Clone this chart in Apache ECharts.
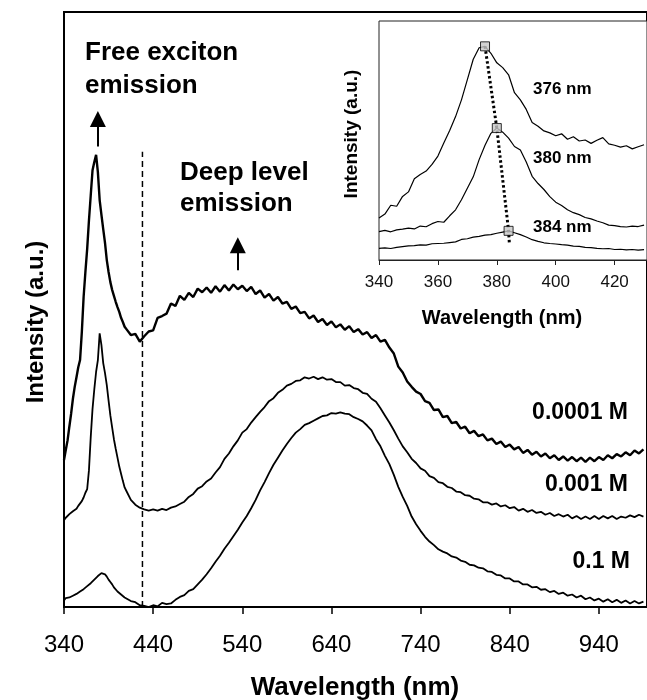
<!DOCTYPE html>
<html>
<head>
<meta charset="utf-8">
<script src="https://cdn.jsdelivr.net/npm/echarts@6/dist/echarts.min.js"></script>
<style>
  html, body { margin: 0; padding: 0; background: #fff; }
  #chart { width: 647px; height: 700px; }
</style>
</head>
<body>
<div id="chart"></div>
<script>
// ---------------------------------------------------------------------------
// Photoluminescence spectra (main) + free exciton detail (inset)
// ---------------------------------------------------------------------------
const FONT = '"Liberation Sans", Arial, sans-serif';

// main spectra, intensity in arbitrary units (0 = baseline of the frame)
const wlMain = [
  340, 342, 344, 346, 348, 350, 352, 354, 356, 358, 360, 362, 364, 366, 368, 370, 372, 374,
  376, 378, 380, 382, 384, 386, 388, 390, 392, 394, 396, 398, 400, 402, 404, 406, 408, 410,
  415, 420, 425, 430, 435, 440, 445, 450, 455, 460, 465, 470, 475, 480, 485, 490, 495, 500,
  505, 510, 515, 520, 525, 530, 535, 540, 545, 550, 555, 560, 565, 570, 575, 580, 585, 590,
  595, 600, 605, 610, 615, 620, 625, 630, 635, 640, 645, 650, 655, 660, 665, 670, 675, 680,
  685, 690, 695, 700, 705, 710, 715, 720, 725, 730, 735, 740, 745, 750, 755, 760, 765, 770,
  775, 780, 785, 790, 795, 800, 805, 810, 815, 820, 825, 830, 835, 840, 845, 850, 855, 860,
  865, 870, 875, 880, 885, 890, 895, 900, 905, 910, 915, 920, 925, 930, 935, 940, 945, 950,
  955, 960, 965, 970, 975, 980, 985, 990
];
const conc00001 = [
  24.7, 26.4, 28.0, 30.3, 32.5, 35.0, 37.0, 38.6, 40.3, 41.5, 46.2, 52.1, 56.3, 60.2, 65.0, 69.2, 73.4, 74.8,
  76.0, 73.1, 68.4, 65.9, 63.5, 61.2, 58.3, 56.3, 54.6, 53.3, 52.3, 51.3, 50.4, 49.6, 48.6, 47.9, 47.1, 46.7,
  45.7, 45.9, 44.6, 45.5, 46.3, 46.5, 48.6, 48.9, 49.3, 51.0, 50.6, 52.3, 51.6, 52.8, 52.1, 53.5, 52.9, 53.7,
  52.8, 53.9, 53.0, 54.1, 53.2, 54.2, 53.4, 54.0, 53.1, 53.8, 52.6, 53.2, 52.0, 52.6, 51.5, 52.1, 51.0, 51.3,
  50.1, 50.5, 49.4, 49.6, 48.5, 49.0, 47.9, 48.4, 47.4, 48.0, 47.0, 47.5, 46.6, 47.2, 46.2, 46.7, 45.8, 46.2,
  45.2, 45.7, 44.6, 44.9, 43.6, 42.6, 40.4, 39.4, 37.9, 37.0, 36.2, 35.8, 34.6, 34.3, 33.1, 33.2, 31.9, 32.1,
  30.9, 31.1, 30.0, 30.3, 29.2, 29.6, 28.7, 29.0, 28.0, 28.3, 27.4, 27.8, 26.9, 27.3, 26.5, 26.9, 25.9, 26.4,
  25.6, 26.1, 25.3, 25.8, 25.0, 25.5, 24.7, 25.3, 24.6, 25.2, 24.5, 25.1, 24.4, 25.1, 24.5, 25.2, 24.7, 25.5,
  25.0, 25.7, 25.3, 26.0, 25.5, 26.3, 25.8, 26.5
];
const conc0001 = [
  14.6, 15.0, 14.9, 15.6, 15.7, 16.1, 16.3, 16.5, 17.0, 17.2, 17.8, 18.4, 19.2, 19.8, 23.0, 28.6, 33.3, 36.6,
  39.5, 41.5, 46.0, 44.0, 41.0, 39.3, 37.3, 34.7, 32.2, 30.2, 28.2, 26.6, 25.1, 23.6, 22.4, 21.2, 20.1, 19.5,
  18.0, 17.2, 16.7, 16.4, 16.2, 16.4, 16.2, 16.5, 16.3, 16.7, 16.9, 17.3, 17.7, 18.5, 19.0, 19.9, 20.3, 21.1,
  21.6, 22.6, 23.5, 24.9, 25.8, 27.0, 28.0, 29.3, 29.9, 31.0, 31.9, 32.8, 33.6, 34.6, 35.1, 36.0, 36.5, 37.2,
  37.5, 38.0, 38.1, 38.6, 38.4, 38.7, 38.3, 38.6, 38.2, 38.3, 37.8, 37.8, 37.2, 37.3, 36.8, 36.6, 36.0, 35.8,
  35.0, 34.5, 33.4, 32.2, 31.0, 29.7, 28.3, 27.0, 26.0, 24.9, 24.2, 23.3, 22.9, 22.0, 21.7, 21.0, 20.8, 20.2,
  20.0, 19.4, 19.3, 18.8, 18.7, 18.2, 18.1, 17.6, 17.6, 17.2, 17.4, 16.9, 17.1, 16.6, 16.8, 16.2, 16.5, 16.0,
  16.3, 15.8, 16.0, 15.5, 15.8, 15.3, 15.6, 15.2, 15.5, 14.9, 15.3, 14.8, 15.2, 14.8, 15.3, 14.8, 15.3, 14.9,
  15.3, 14.8, 15.2, 15.0, 15.4, 15.1, 15.5, 15.2
];
const conc01 = [
  1.1, 1.5, 1.2, 1.6, 1.4, 1.9, 1.7, 2.2, 2.1, 2.6, 2.5, 3.0, 3.1, 3.5, 3.7, 4.0, 4.3, 4.6,
  4.9, 5.2, 5.4, 5.7, 5.9, 5.5, 5.1, 4.6, 4.2, 3.8, 3.3, 3.0, 2.6, 2.5, 2.1, 1.9, 1.6, 1.5,
  1.0, 0.8, 0.3, 0.2, 0.0, 0.3, 0.1, 0.7, 0.5, 0.6, 1.2, 1.7, 2.0, 2.7, 3.0, 3.8, 4.6, 5.5,
  6.5, 7.6, 8.6, 9.8, 10.8, 11.9, 13.0, 14.2, 15.3, 16.6, 18.0, 19.6, 21.0, 22.5, 23.9, 25.1, 26.3, 27.4,
  28.4, 29.3, 29.9, 30.6, 30.9, 31.3, 31.7, 32.1, 32.2, 32.6, 32.5, 32.7, 32.5, 32.4, 31.9, 31.6, 31.2, 30.5,
  29.7, 28.2, 27.0, 25.4, 24.0, 22.2, 20.2, 18.5, 17.0, 15.2, 13.9, 12.8, 11.8, 11.0, 10.4, 9.7, 9.3, 9.0,
  8.5, 8.3, 7.8, 7.6, 7.1, 7.0, 6.6, 6.5, 6.0, 5.9, 5.4, 5.3, 4.8, 4.8, 4.3, 4.3, 3.8, 3.8,
  3.3, 3.4, 2.9, 3.0, 2.5, 2.7, 2.2, 2.4, 1.9, 2.1, 1.6, 1.9, 1.3, 1.6, 1.1, 1.4, 0.9, 1.3,
  0.8, 1.2, 0.7, 1.1, 0.6, 1.0, 0.6, 0.9
];

// separation between the two emission regions, and the arrows
const dividerWl = [428, 428];
const dividerVal = [0, 76.5];
const arrowWl = [378, 535];
const arrowFrom = [77.4, 56.6];
const arrowTo = [82.0, 60.8];

// inset: free exciton peak detail
const wlInset = [
  340, 342, 344, 346, 348, 350, 352, 354, 356, 358, 360, 362, 364, 366, 368, 370, 372, 374, 376, 378,
  380, 382, 384, 386, 388, 390, 392, 394, 396, 398, 400, 402, 404, 406, 408, 410, 412, 414, 416, 418,
  420, 422, 424, 426, 428, 430
];
const inset376 = [
  17.6, 19.2, 22.9, 22.5, 26.6, 28.5, 34.0, 35.8, 37.2, 40.0, 43.5, 49.0, 54.2, 60.0, 67.0, 75.5, 84.0, 88.8, 89.4, 86.5,
  82.5, 80.5, 77.5, 70.0, 67.0, 63.0, 57.5, 56.0, 54.0, 53.2, 52.0, 52.8, 50.5, 51.6, 49.8, 50.2, 48.8, 50.1, 51.2, 48.6,
  48.0, 47.2, 47.8, 46.5, 47.4, 48.2
];
const inset380 = [
  11.9, 12.4, 11.8, 12.6, 12.9, 13.3, 13.0, 14.2, 13.9, 15.2, 16.1, 15.8, 18.5, 21.0, 25.2, 30.0, 34.8, 42.0, 48.0, 53.0,
  55.2, 53.5, 51.0, 47.5, 46.0, 41.0, 35.0, 32.0, 29.5, 26.5, 24.2, 22.8, 21.0, 19.8, 19.0, 17.8, 17.2, 16.3, 15.6, 14.6,
  14.4, 14.0, 13.8, 14.2, 14.0, 14.6
];
const inset384 = [
  4.9, 5.1, 4.8, 5.3, 5.6, 5.9, 6.0, 6.3, 6.2, 6.8, 6.9, 7.0, 7.3, 7.6, 8.6, 8.9, 9.6, 9.9, 10.4, 10.6,
  11.2, 11.7, 12.2, 11.4, 10.6, 9.6, 8.5, 7.8, 7.2, 6.9, 6.7, 6.4, 6.2, 5.8, 5.7, 5.3, 5.2, 4.9, 4.7, 4.8,
  4.4, 4.5, 4.2, 4.4, 4.1, 4.3
];
const peakWl = [376, 380, 384];
const peakVal = [89.4, 55.2, 12.2];
const shiftTailWl = [384.3];
const shiftTailVal = [6.3];

const zip = (xs, ys) => xs.map((x, i) => [x, ys[i]]);

function mainLine(name, values, width) {
  return {
    name, type: 'line', xAxisIndex: 0, yAxisIndex: 0,
    data: zip(wlMain, values), showSymbol: false, silent: true,
    lineStyle: { color: '#000', width }
  };
}

function insetLine(name, values) {
  return {
    name, type: 'line', xAxisIndex: 1, yAxisIndex: 1,
    data: zip(wlInset, values), showSymbol: false, silent: true,
    lineStyle: { color: '#000', width: 1.2 }
  };
}

function txt(text, x, y, size, opts = {}) {
  return {
    type: 'text', x, y, rotation: opts.rotation || 0, z: 10,
    style: {
      text, fill: '#000', font: `${opts.weight || 'bold'} ${size}px ${FONT}`,
      align: opts.align || 'left', verticalAlign: 'middle'
    }
  };
}

const chart = echarts.init(document.getElementById('chart'), null, { renderer: 'canvas' });

chart.setOption({
  animation: false,
  backgroundColor: '#fff',
  textStyle: { fontFamily: FONT },
  grid: [
    { left: 64, top: 12, right: -3, bottom: 93, show: true, borderColor: '#000', borderWidth: 2 },
    { left: 379, top: 21, right: -3, bottom: 440, show: true, backgroundColor: '#fff', borderColor: '#222', borderWidth: 1 }
  ],
  xAxis: [
    {
      gridIndex: 0, type: 'value', min: 340, max: 994, interval: 100,
      axisLine: { show: true, lineStyle: { color: '#000', width: 2 } },
      axisTick: { show: true, length: 7, lineStyle: { color: '#000', width: 1.5 } },
      axisLabel: { fontSize: 24, color: '#000', margin: 26, showMaxLabel: false, fontFamily: FONT },
      splitLine: { show: false }
    },
    {
      gridIndex: 1, type: 'value', min: 340, max: 431, interval: 20,
      axisLine: { show: true, lineStyle: { color: '#222', width: 1 } },
      axisTick: { show: true, length: 5, lineStyle: { color: '#222', width: 1 } },
      axisLabel: { fontSize: 17, color: '#111', margin: 14, showMaxLabel: false, fontFamily: FONT },
      splitLine: { show: false }
    }
  ],
  yAxis: [
    { gridIndex: 0, type: 'value', min: 0, max: 100, show: false, splitLine: { show: false } },
    { gridIndex: 1, type: 'value', min: 0, max: 100, show: false, splitLine: { show: false } }
  ],
  series: [
    mainLine('0.0001 M', conc00001, 2.4),
    mainLine('0.001 M', conc0001, 1.8),
    mainLine('0.1 M', conc01, 1.8),
    {
      name: 'divider', type: 'line', xAxisIndex: 0, yAxisIndex: 0,
      data: zip(dividerWl, dividerVal), showSymbol: false, silent: true,
      lineStyle: { color: '#000', width: 1.5, type: [6, 4] },
      markLine: {
        silent: true, symbol: ['none', 'triangle'], symbolSize: [16, 16],
        label: { show: false },
        lineStyle: { color: '#000', width: 2, type: 'solid' },
        itemStyle: { color: '#000' },
        data: arrowWl.map((wl, i) => [{ coord: [wl, arrowFrom[i]] }, { coord: [wl, arrowTo[i]] }])
      }
    },
    insetLine('376 nm', inset376),
    insetLine('380 nm', inset380),
    insetLine('384 nm', inset384),
    {
      name: 'shift', type: 'line', xAxisIndex: 1, yAxisIndex: 1,
      data: zip(peakWl.concat(shiftTailWl), peakVal.concat(shiftTailVal)),
      showSymbol: false, silent: true, z: 3,
      lineStyle: { color: '#000', width: 3, type: [2.5, 2.5] }
    },
    {
      name: 'peaks', type: 'scatter', xAxisIndex: 1, yAxisIndex: 1,
      data: zip(peakWl, peakVal), symbol: 'rect', symbolSize: 9, z: 4, silent: true,
      itemStyle: { color: '#c8c8c8', borderColor: '#000', borderWidth: 1 }
    }
  ],
  graphic: [
    txt('Free exciton', 85, 53, 26),
    txt('emission', 85, 86, 26),
    txt('Deep level', 180, 173, 26),
    txt('emission', 180, 204, 26),
    txt('0.0001 M', 628, 413, 23, { align: 'right' }),
    txt('0.001 M', 628, 485, 23, { align: 'right' }),
    txt('0.1 M', 630, 562, 23, { align: 'right' }),
    txt('Wavelength (nm)', 355, 688, 26, { align: 'center' }),
    txt('Intensity (a.u.)', 36, 322, 24, { align: 'center', rotation: Math.PI / 2 }),
    txt('376 nm', 533, 89, 17),
    txt('380 nm', 533, 158, 17),
    txt('384 nm', 533, 227, 17),
    txt('Wavelength (nm)', 502, 318, 20, { align: 'center' }),
    txt('Intensity (a.u.)', 352, 134, 19, { align: 'center', rotation: Math.PI / 2 })
  ]
});
</script>
</body>
</html>
